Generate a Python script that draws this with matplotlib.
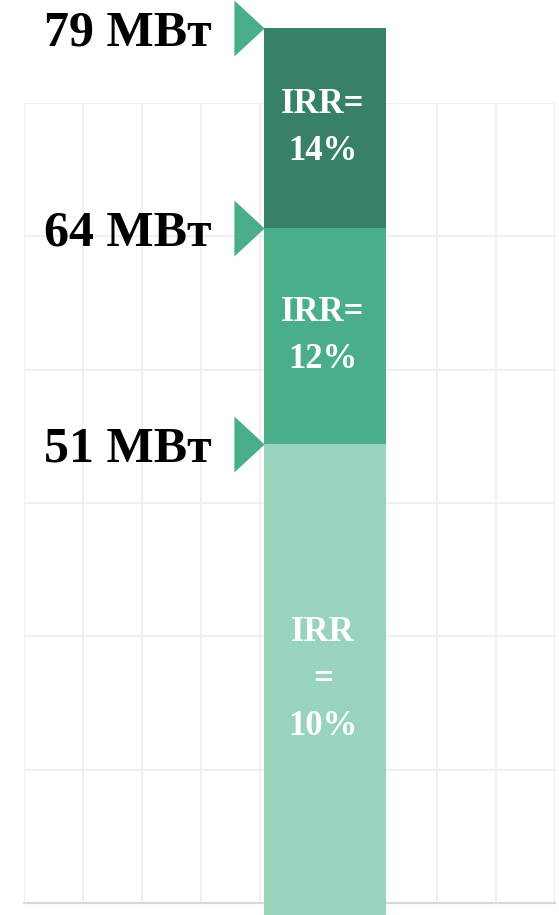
import numpy as np
import matplotlib
matplotlib.use("Agg")
import matplotlib.pyplot as plt
from matplotlib.path import Path

# ---- data ----
capacity_mw = [51, 64, 79]                 # cumulative capacity thresholds (MW)
irr_labels = ["IRR\n=\n10%", "IRR=\n12%", "IRR=\n14%"]
threshold_labels = ["51 МВт", "64 МВт", "79 МВт"]
seg_colors = ["#97D4BB", "#4AAF88", "#378266"]
arrow_color = "#4AAF88"

W, H = 559, 915
fig = plt.figure(figsize=(W / 100, H / 100), dpi=100)

# ---- background grid panel ----
gx0, gx1, gy0, gy1 = 24, 555, 12, 812   # pixels (y from bottom)
bg = fig.add_axes([gx0 / W, gy0 / H, (gx1 - gx0) / W, (gy1 - gy0) / H])
bg.set_xlim(0, 9)
bg.set_ylim(0, 6)
bg.set_xticks(np.arange(0, 10))
bg.set_yticks(np.arange(0, 7))
bg.grid(True, color="#EFEFEF", linewidth=1.3)
bg.tick_params(length=0, labelbottom=False, labelleft=False)
for s in ["top", "right", "left"]:
    bg.spines[s].set_visible(False)
bg.spines["bottom"].set_color("#D9D9D9")
bg.spines["bottom"].set_linewidth(1.6)
bg.set_axisbelow(True)

# ---- foreground stacked bar ----
ax = fig.add_axes([0, 0, 1, 887 / H])
ax.patch.set_alpha(0)
ax.set_xlim(0, W)
bounds = [0] + capacity_mw
disp = [0, 471, 687, 887]
ax.set_yscale("function",
              functions=(lambda y: np.interp(y, bounds, disp),
                         lambda p: np.interp(p, disp, bounds)))
ax.set_ylim(0, capacity_mw[-1])
ax.axis("off")

bar_x, bar_w = 325, 122
bottoms = bounds[:-1]
heights = [b - a for a, b in zip(bounds[:-1], bounds[1:])]
ax.bar([bar_x] * 3, heights, bottom=bottoms, width=bar_w, color=seg_colors,
       linewidth=0, clip_on=False)

for lo, hi, lab in zip(bounds[:-1], bounds[1:], irr_labels):
    mid = np.interp((np.interp(lo, bounds, disp) + np.interp(hi, bounds, disp)) / 2,
                    disp, bounds)
    ax.text(bar_x - 2, mid, lab, ha="center", va="center", color="white",
            fontsize=25, fontweight="bold", family="Liberation Serif",
            linespacing=1.55)

# arrow markers + labels
tri = Path([(-0.27, -0.5), (0.27, 0.0), (-0.27, 0.5), (-0.27, -0.5)],
           [Path.MOVETO, Path.LINETO, Path.LINETO, Path.CLOSEPOLY])
tip_x = bar_x - bar_w / 2
for v, lab in zip(capacity_mw, threshold_labels):
    ax.plot([tip_x - 15], [v], marker=tri, markersize=56 * 0.72,
            color=arrow_color, markeredgewidth=0, clip_on=False)
    ax.annotate(lab, (tip_x - 52, v), xytext=(0, 0), textcoords="offset points",
                ha="right", va="center_baseline",
                fontsize=36, fontweight="bold", family="Liberation Serif",
                color="black")

fig.savefig("out.png", dpi=100)
